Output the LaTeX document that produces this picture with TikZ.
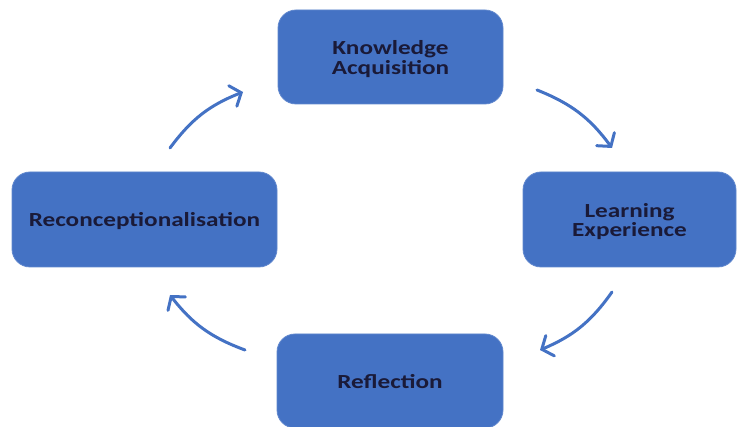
\documentclass[tikz,border=0pt]{standalone}
\usepackage{fontspec}
\setmainfont{Carlito}
\usetikzlibrary{arrows.meta}
\definecolor{boxblue}{HTML}{4472C4}
\definecolor{txtnavy}{HTML}{1A1A38}
\newcommand\boxtext[1]{\raisebox{-3pt}[\height][\depth]{\scalebox{1.26}[1]{\fontsize{20}{17}\selectfont\bfseries\begin{tabular}{@{}c@{}}#1\end{tabular}}}}
\tikzset{
  stagebox/.style={fill=boxblue, draw=boxblue!85!white, line width=0.8pt, rounded corners=18pt,
    text=txtnavy, inner sep=0pt, align=center},
  cyclearrow/.style={draw=boxblue, line width=3pt, line cap=round,
    -{Straight Barb[length=9pt,width=22pt,line width=3pt,line cap=round]}, bend left=16}
}
\begin{document}
\begin{tikzpicture}[x=1pt,y=-1pt]
\useasboundingbox (0,0) rectangle (737,427);
\node[stagebox, minimum width=225pt, minimum height=94pt] (know) at (390.5,57) {\boxtext{Knowledge\\Acquisition}};
\node[stagebox, minimum width=213pt, minimum height=95pt] (learn) at (629.5,219.5) {\boxtext{Learning\\Experience}};
\node[stagebox, minimum width=226pt, minimum height=94pt] (refl) at (390,381) {\boxtext{Reflection}};
\node[stagebox, minimum width=265pt, minimum height=95pt] (recon) at (144.5,219.5) {\boxtext{Reconceptionalisation}};
\coordinate (a1s) at (170,148);
\coordinate (a1e) at (243,92);
\coordinate (a2s) at (537,90);
\coordinate (a2e) at (612,148);
\coordinate (a3s) at (612,292);
\coordinate (a3e) at (540,350);
\coordinate (a4s) at (245,350);
\coordinate (a4e) at (170,295);
\draw[cyclearrow] (a1s) to (a1e);
\draw[cyclearrow] (a2s) to (a2e);
\draw[cyclearrow] (a3s) to (a3e);
\draw[cyclearrow] (a4s) to (a4e);
\end{tikzpicture}
\end{document}
